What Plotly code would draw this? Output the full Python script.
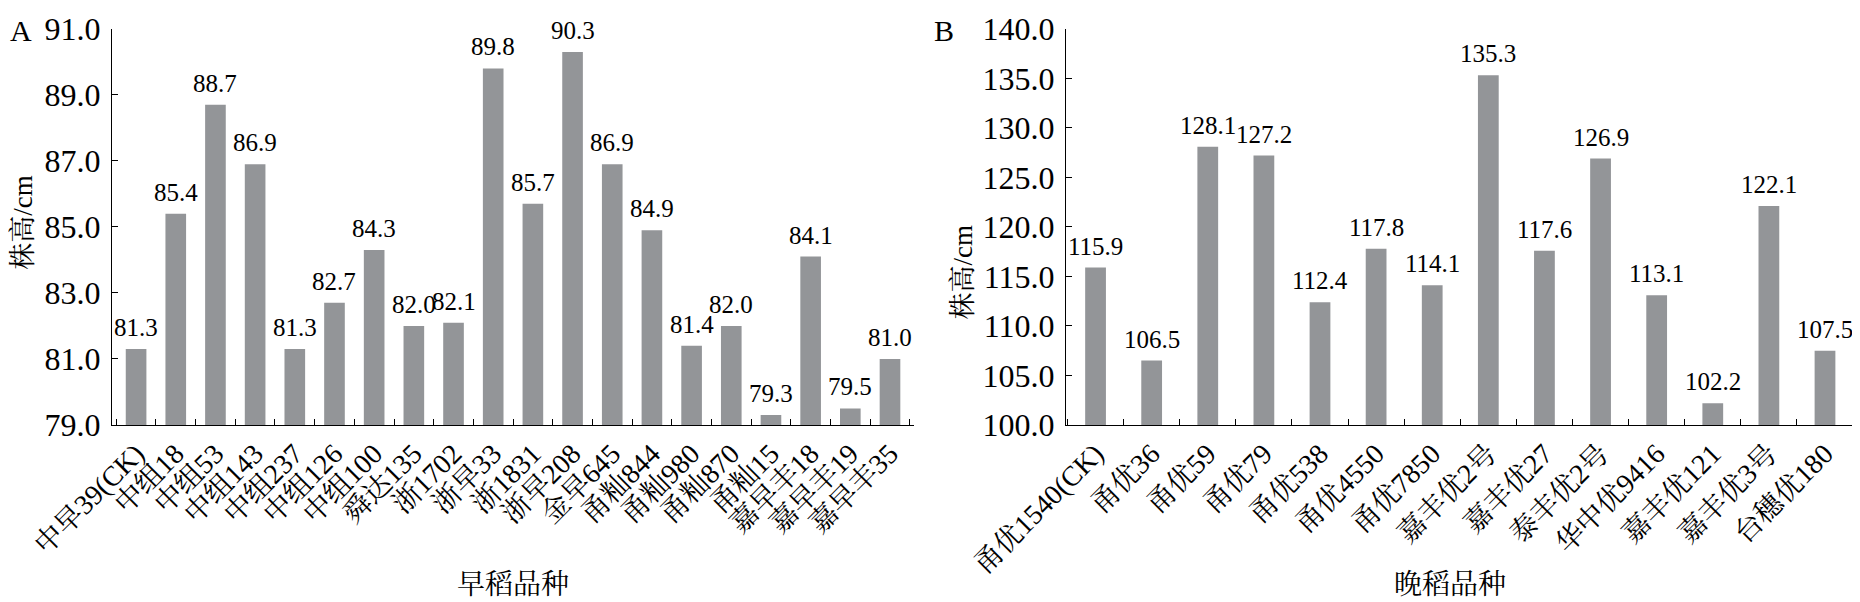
import plotly.graph_objects as go

# 早稻 (A)
early_names = ['中早39(CK)', '中组18', '中组53', '中组143', '中组237', '中组126', '中组100',
               '舜达135', '浙1702', '浙早33', '浙1831', '浙早208', '金早645', '甬籼844',
               '甬籼980', '甬籼870', '甬籼15', '嘉早丰18', '嘉早丰19', '嘉早丰35']
early_height = [81.3, 85.4, 88.7, 86.9, 81.3, 82.7, 84.3, 82.0, 82.1, 89.8,
                85.7, 90.3, 86.9, 84.9, 81.4, 82.0, 79.3, 84.1, 79.5, 81.0]
early_ticks = [79.0, 81.0, 83.0, 85.0, 87.0, 89.0, 91.0]

# 晚稻 (B)
late_names = ['甬优1540(CK)', '甬优36', '甬优59', '甬优79', '甬优538', '甬优4550', '甬优7850',
              '嘉丰优2号', '嘉丰优27', '泰丰优2号', '华中优9416', '嘉丰优121', '嘉丰优3号', '台穗优180']
late_height = [115.9, 106.5, 128.1, 127.2, 112.4, 117.8, 114.1,
               135.3, 117.6, 126.9, 113.1, 102.2, 122.1, 107.5]
late_ticks = [100.0, 105.0, 110.0, 115.0, 120.0, 125.0, 130.0, 135.0, 140.0]

FONT = "'Liberation Serif', 'Noto Serif CJK SC', 'Noto Sans CJK SC', serif"
BAR = '#939598'

fig = go.Figure()
fig.add_trace(go.Bar(x=early_names, y=early_height, width=0.52, marker=dict(color=BAR, line_width=0),
                     xaxis='x', yaxis='y', showlegend=False))
fig.add_trace(go.Bar(x=late_names, y=late_height, width=0.37, marker=dict(color=BAR, line_width=0),
                     xaxis='x2', yaxis='y2', showlegend=False))


def xaxis_style(domain, anchor):
    return dict(domain=domain, anchor=anchor, type='category', automargin=False,
                showline=True, linecolor='black', linewidth=1.2,
                ticks='inside', tickson='boundaries', ticklen=6, tickcolor='black', tickangle=-45,
                tickfont=dict(family=FONT, size=28, color='black'), showgrid=False, zeroline=False)


def yaxis_style(domain, anchor, rng, ticks):
    return dict(domain=domain, anchor=anchor, range=rng, automargin=False,
                tickvals=ticks, ticktext=[f'{t:.1f}' for t in ticks],
                showline=True, linecolor='black', linewidth=1.2, ticks='inside', ticklen=6, tickcolor='black',
                ticklabelstandoff=4, tickfont=dict(family=FONT, size=32, color='black'),
                showgrid=False, zeroline=False)


# 页面有 8px 的边距, 图幅略缩以保持与原图对齐 (顶部留出刻度文字空间)
ydom = [0.298, 0.965]
fig.update_layout(
    width=1852, height=594, margin=dict(l=0, r=0, t=0, b=0),
    plot_bgcolor='white', paper_bgcolor='white',
    xaxis=xaxis_style([0.0562, 0.4892], 'y'),
    yaxis=yaxis_style(ydom, 'x', [79, 91], early_ticks),
    xaxis2=xaxis_style([0.5713, 0.9973], 'y2'),
    yaxis2=yaxis_style(ydom, 'x2', [100, 140], late_ticks),
)

# 数值标签
for xr, yr, names, vals in [('x', 'y', early_names, early_height), ('x2', 'y2', late_names, late_height)]:
    for n, v in zip(names, vals):
        fig.add_annotation(x=n, y=v, xref=xr, yref=yr, text=f'{v:.1f}', showarrow=False,
                           yanchor='bottom', yshift=6, font=dict(family=FONT, size=25, color='black'))

# 轴标题与面板字母
labels = [
    dict(x=0.2727, y=0.03, text='早稻品种', textangle=0, size=28),
    dict(x=0.7786, y=0.03, text='晚稻品种', textangle=0, size=28),
    dict(x=0.008, y=0.64, text='株高/cm', textangle=-90, size=27),
    dict(x=0.5157, y=0.555, text='株高/cm', textangle=-90, size=27),
]
for a in labels:
    fig.add_annotation(x=a['x'], y=a['y'], xref='paper', yref='paper', text=a['text'], textangle=a['textangle'],
                       showarrow=False, xanchor='center', yanchor='middle',
                       font=dict(family=FONT, size=a['size'], color='black'))
for t, px in [('A', 0.0), ('B', 0.499)]:
    fig.add_annotation(x=px, y=0.962, xref='paper', yref='paper', text=t, showarrow=False,
                       xanchor='left', yanchor='middle', font=dict(family=FONT, size=30, color='black'))

fig.write_html('out.html')
